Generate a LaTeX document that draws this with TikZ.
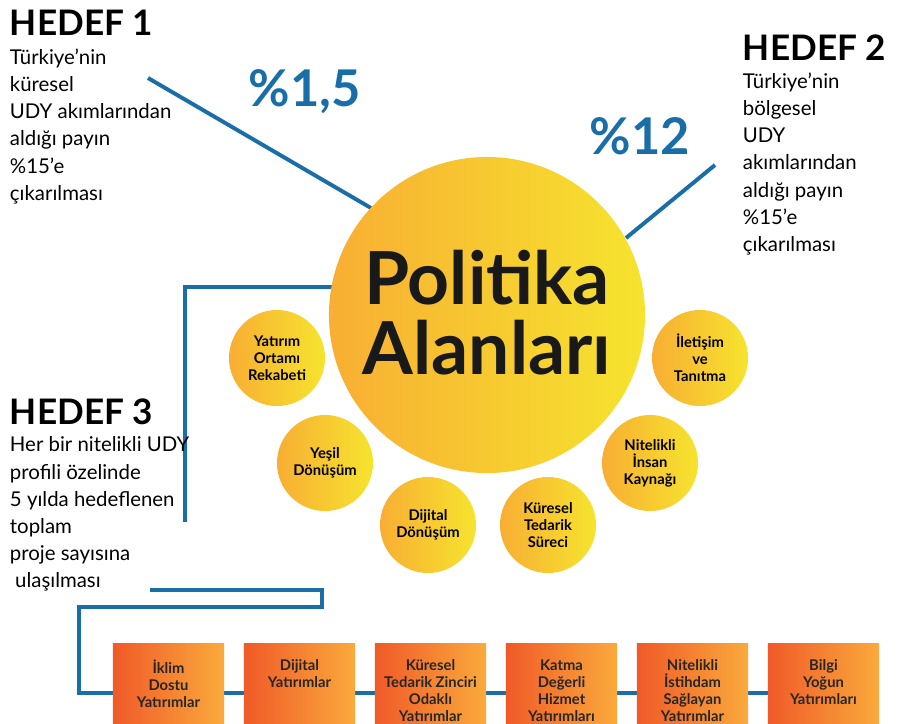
\documentclass[tikz,border=0pt]{standalone}
\usepackage{fontspec}
\setmainfont{Lato}
\usetikzlibrary{positioning}
\definecolor{udyblue}{HTML}{1A6EA8}
\definecolor{sunorange}{HTML}{F8AE33}
\definecolor{sunyellow}{HTML}{F6E42E}
\definecolor{boxred}{HTML}{F05A28}
\definecolor{boxorange}{HTML}{FAAA3C}
\begin{document}
\begin{tikzpicture}%
        [x=0.025cm, y=-0.025cm,
        link/.style={color=udyblue, line width=2.8pt},
        sun/.style={circle, left color=sunorange, right color=sunyellow, draw=none, inner sep=0pt},
        area/.style={sun, minimum size=2.4cm, font=\bfseries\fontsize{10.5}{12}\selectfont, align=center},
        project/.style={rectangle, left color=boxred, right color=boxorange, minimum width=2.775cm, minimum height=2.3cm, anchor=north},
        projtext/.style={anchor=north, font=\bfseries\fontsize{10.5}{12}\selectfont, align=center, text=black!85},
        goal/.style={anchor=base west, font=\bfseries\fontsize{25}{26}\selectfont},
        goaltext/.style={anchor=north west, align=left, font=\fontsize{14.5}{19.3}\selectfont},
        share/.style={font=\bfseries\fontsize{36}{38}\selectfont, text=udyblue}]
    \useasboundingbox (0,0) rectangle (900,723);

    %% Lines behind the circles
    \coordinate (g1) at (148,78);
    \coordinate (g2) at (715,165);
    \coordinate (g3) at (185,522);
    \coordinate (l1) at (150,590);
    \draw[link] (g1) -- (371,208);
    \draw[link] (g2) -- (626,238);
    \draw[link] (g3) -- (185,287) -- (340,287);

    %% Central circle
    \node[sun, minimum size=7.9cm] (core) at (487,315) {};
    \node[font=\bfseries\fontsize{52}{54}\selectfont, text=black!90] (title1) at (487,278) {Politika};
    \node[font=\bfseries\fontsize{52}{54}\selectfont, text=black!90] (title2) at (487,348) {Alanları};

    %% Policy areas
    \node[area] (a1) at (277,358) {Yatırım\\Ortamı\\Rekabeti};
    \node[area] (a2) at (325,463) {Yeşil\\Dönüşüm};
    \node[area] (a3) at (428,525) {Dijital\\Dönüşüm};
    \node[area] (a4) at (548,525) {Küresel\\Tedarik\\Süreci};
    \node[area] (a5) at (650,463) {Nitelikli\\İnsan\\Kaynağı};
    \node[area] (a6) at (700,358) {İletişim\\ve\\Tanıtma};

    %% Goals
    \node[goal] (h1) at (5,35) {HEDEF 1};
    \node[goaltext] (t1) at (5,44) {Türkiye’nin\\küresel\\UDY akımlarından\\aldığı payın\\\%15’e\\çıkarılması};
    \node[goal] (h2) at (738,60) {HEDEF 2};
    \node[goaltext] (t2) at (738,68) {Türkiye’nin\\bölgesel\\UDY\\akımlarından\\aldığı payın\\\%15’e\\çıkarılması};
    \node[goal] (h3) at (5,424) {HEDEF 3};
    \node[goaltext] (t3) at (5,432) {Her bir nitelikli UDY\\profili özelinde\\5 yılda hedeflenen\\toplam\\proje sayısına\\\ ulaşılması};
    \node[share] (p1) at (305,92) {\%1,5};
    \node[share] (p2) at (640,136) {\%12};

    %% Project types
    \draw[link] (l1) -- (322,590) -- (322,607) -- (79,607) -- (79,693) -- (870,693);
    \foreach \i/\x/\txt in {1/113/{İklim\\Dostu\\Yatırımlar}, 2/244/{Dijital\\Yatırımlar},
        3/375/{Küresel\\Tedarik Zinciri\\Odaklı\\Yatırımlar}, 4/506/{Katma\\Değerli\\Hizmet\\Yatırımları},
        5/637/{Nitelikli\\İstihdam\\Sağlayan\\Yatırımlar}, 6/768/{Bilgi\\Yoğun\\Yatırımları}}{
        \node[project] (b\i) at (\x+55.5,643) {};
        \node[projtext] (bt\i) at ([yshift=-0.3cm]b\i.north) {\txt};
    }
\end{tikzpicture}
\end{document}
